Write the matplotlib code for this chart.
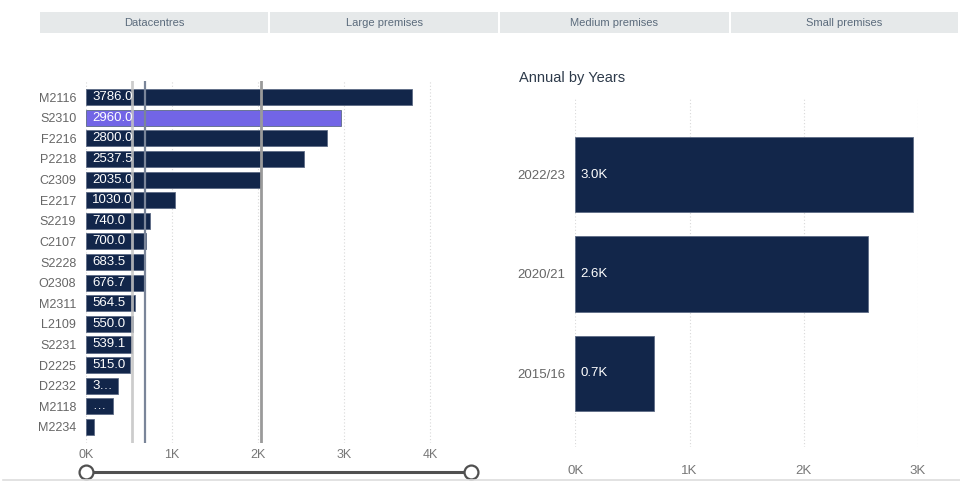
import numpy as np
import matplotlib.pyplot as plt
from matplotlib.patches import Rectangle
from matplotlib.lines import Line2D

plt.rcParams['font.family'] = ['Liberation Sans', 'DejaVu Sans']

# data
tabs = ['Datacentres', 'Large premises', 'Medium premises', 'Small premises']

sites = ['M2116', 'S2310', 'F2216', 'P2218', 'C2309', 'E2217', 'S2219', 'C2107', 'S2228',
         'O2308', 'M2311', 'L2109', 'S2231', 'D2225', 'D2232', 'M2118', 'M2234']
site_vals = [3786.0, 2960.0, 2800.0, 2537.5, 2035.0, 1030.0, 740.0, 700.0, 683.5,
             676.7, 564.5, 550.0, 539.1, 515.0, 368.0, 310.0, 97.0]
selected = 'S2310'

years = ['2022/23', '2020/21', '2015/16']
year_vals = [2960.0, 2560.0, 685.0]

NAVY = '#12264a'
PURPLE = '#7265e6'
W, H = 960, 486

fig = plt.figure(figsize=(W / 100, H / 100), dpi=100)


def box(x0, y0, x1, y1):
    # pixel box (top-left origin) -> figure fraction rect
    return [x0 / W, 1 - y1 / H, (x1 - x0) / W, (y1 - y0) / H]


# tab strip
tab_x = [(40, 268), (270, 498), (500, 729), (731, 958)]
for name, (a, b) in zip(tabs, tab_x):
    fig.add_artist(Rectangle((a / W, 1 - 33 / H), (b - a) / W, 21 / H,
                             transform=fig.transFigure, fc='#e6e9ea', ec='none'))
    fig.text((a + b) / 2 / W, 1 - 22.5 / H, name, ha='center', va='center',
             fontsize=8, color='#5b6b7c')

# ---- left: sites ranked ----
ax = fig.add_axes(box(86, 81, 471.3, 443))
y = np.arange(len(sites))
cols = [PURPLE if s == selected else NAVY for s in sites]
bars = ax.barh(y, site_vals, height=0.78, color=cols, edgecolor='#5d6b85', linewidth=0.6, zorder=2)
ax.set_xlim(0, 4480)
ax.set_ylim(len(sites) - 0.22, -0.78)
ax.set_yticks(y, sites)
ax.set_xticks([0, 1000, 2000, 3000, 4000], ['0K', '1K', '2K', '3K', '4K'])
ax.grid(axis='x', linestyle=(0, (1, 2)), color='#d8d8d8', linewidth=0.8, zorder=0)

# quartile lines
q1, med, q3 = np.percentile(site_vals, [25, 50, 75])
ax.axvline(q1, color='#c4c4c4', lw=2, alpha=0.85, zorder=4)
ax.axvline(med, color='#7a8599', lw=1.6, zorder=4)
ax.axvline(q3, color='#9a9a9a', lw=2, zorder=4)

fig.canvas.draw()
r = fig.canvas.get_renderer()
px_per = 385.3 / 4480
for v, yy in zip(site_vals, y):
    full = f'{v:.1f}'
    room = v * px_per - 8
    txt = ax.text(75, yy, full, color='white', fontsize=9.5, va='center', ha='left', zorder=5)
    w = txt.get_window_extent(r).width
    if w > room:
        # shorten the label until it fits inside its bar
        n = len(full)
        while n > 0:
            txt.set_text(full[:n] + '…')
            if txt.get_window_extent(r).width <= room:
                break
            n -= 1
        if n == 0:
            txt.set_text('…')
            if txt.get_window_extent(r).width > room:
                txt.set_text('')

for s in ax.spines.values():
    s.set_visible(False)
ax.tick_params(axis='y', length=0, pad=7, labelsize=9, labelcolor='#666666')
ax.tick_params(axis='x', length=0, pad=4, labelsize=9, labelcolor='#777777')

# range slider under the axis
fig.add_artist(Line2D([86 / W, 471 / W], [1 - 471.5 / H] * 2, transform=fig.transFigure,
                      color='#505050', lw=2.2))
for sx in (86, 471):
    fig.add_artist(Line2D([sx / W], [1 - 471.5 / H], transform=fig.transFigure, marker='o',
                          markersize=10, markerfacecolor='white', markeredgecolor='#505050',
                          markeredgewidth=1.6))

# ---- right: annual by years ----
ax2 = fig.add_axes(box(575.3, 97, 918, 447))
y2 = np.arange(len(years))
ax2.barh(y2, year_vals, height=0.755, color=NAVY, edgecolor='#5d6b85', linewidth=0.6, zorder=2)
ax2.set_xlim(0, 3000)
ax2.set_ylim(len(years) - 0.26, -0.78)
ax2.set_yticks(y2, years)
ax2.set_xticks([0, 1000, 2000, 3000], ['0K', '1K', '2K', '3K'])
ax2.grid(axis='x', linestyle=(0, (1, 2)), color='#d8d8d8', linewidth=0.8, zorder=0)
for v, yy in zip(year_vals, y2):
    ax2.text(45, yy, f'{v / 1000:.1f}K', color='white', fontsize=9.5, va='center', ha='left', zorder=5)
for s in ax2.spines.values():
    s.set_visible(False)
ax2.tick_params(axis='y', length=0, pad=7, labelsize=9.5, labelcolor='#666666')
ax2.tick_params(axis='x', length=0, pad=13, labelsize=9.5, labelcolor='#777777')
fig.text(519 / W, 1 - 78 / H, 'Annual by Years', fontsize=10.5, color='#2d3a4a', va='center', ha='left')

# bottom separator
fig.add_artist(Line2D([3 / W, 1], [1 - 480 / H] * 2, transform=fig.transFigure, color='#dddddd', lw=1.2))

fig.savefig('out.png', dpi=100)
